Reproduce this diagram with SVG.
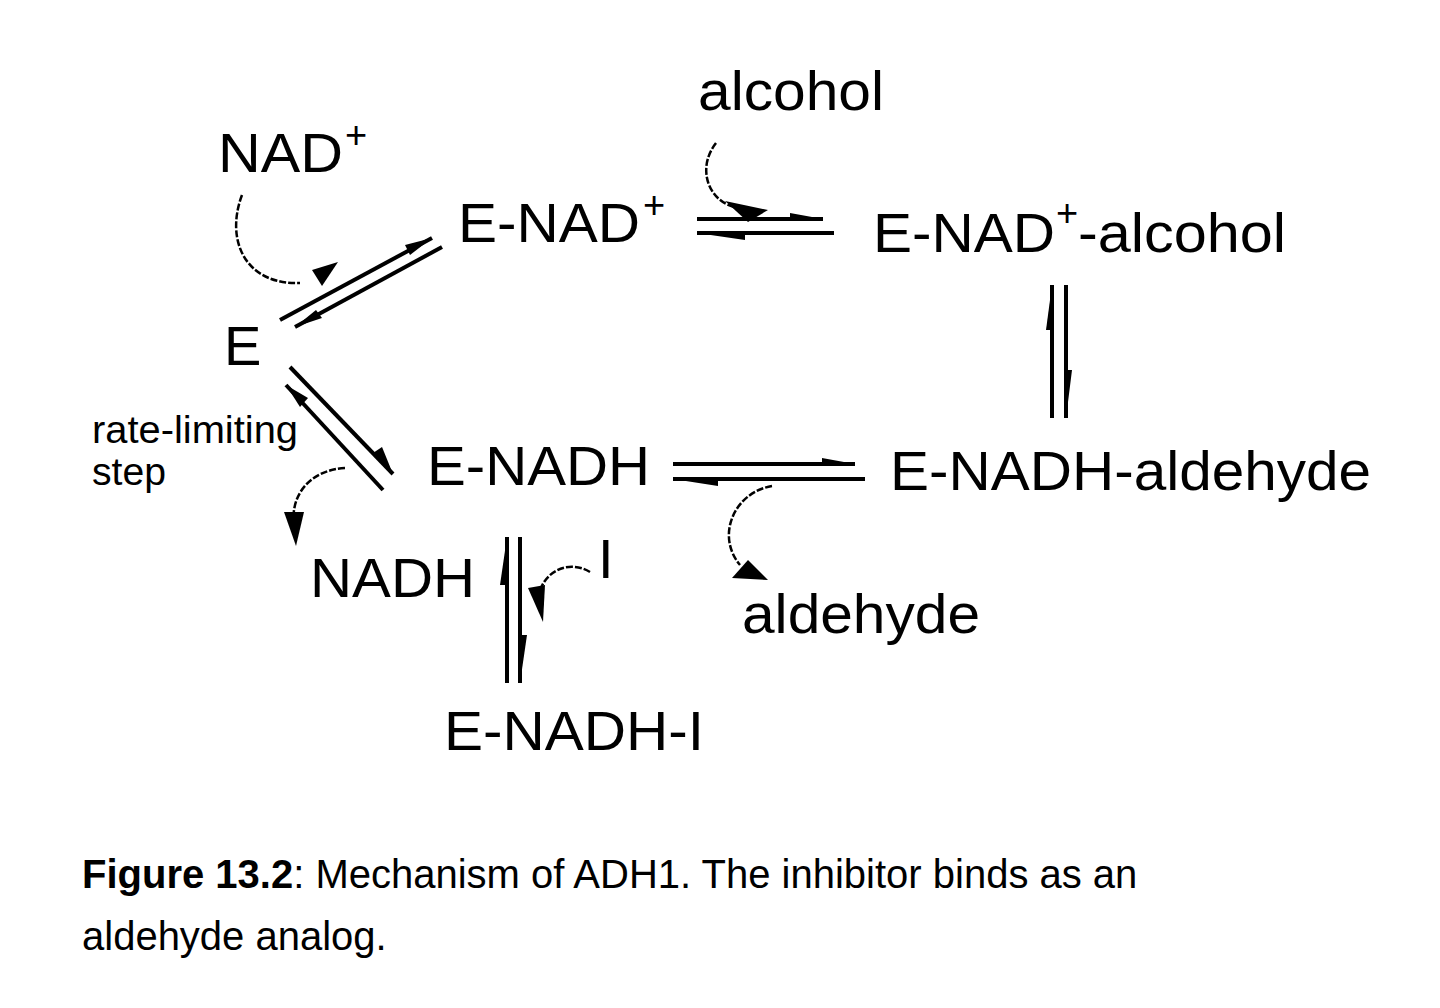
<svg xmlns="http://www.w3.org/2000/svg" width="1440" height="1008" viewBox="0 0 1440 1008">
<style>
.l{font-family:"Liberation Sans",Arial,sans-serif;font-size:56px;fill:#000}
.s{font-family:"Liberation Sans",Arial,sans-serif;font-size:38px;fill:#000}
.c{font-family:"Liberation Sans",Arial,sans-serif;font-size:40px;fill:#000}
.ln{stroke:#000;stroke-width:4;fill:none}
.cv{stroke:#000;stroke-width:2.5;fill:none;stroke-dasharray:7 2}
.h{fill:#000}
</style>
<rect width="1440" height="1008" fill="#fff"/>
<g id="n-nad"><text class="l" x="218" y="172" textLength="125" lengthAdjust="spacingAndGlyphs">NAD</text><text class="s" x="345" y="148">+</text></g>
<g id="n-alcohol"><text class="l" x="698" y="110" textLength="186" lengthAdjust="spacingAndGlyphs">alcohol</text></g>
<g id="n-enad"><text class="l" x="458" y="242" textLength="182" lengthAdjust="spacingAndGlyphs">E-NAD</text><text class="s" x="643" y="218">+</text></g>
<g id="n-enadalc"><text class="l" x="873" y="252" textLength="182" lengthAdjust="spacingAndGlyphs">E-NAD</text><text class="s" x="1056" y="226">+</text><text class="l" x="1078" y="252" textLength="208" lengthAdjust="spacingAndGlyphs">-alcohol</text></g>
<g id="n-e"><text class="l" x="224" y="365">E</text></g>
<g id="n-rate"><text class="s" x="92" y="443" textLength="206" lengthAdjust="spacingAndGlyphs">rate-limiting</text><text class="s" x="92" y="485" textLength="74" lengthAdjust="spacingAndGlyphs">step</text></g>
<g id="n-enadh"><text class="l" x="427" y="485" textLength="223" lengthAdjust="spacingAndGlyphs">E-NADH</text></g>
<g id="n-enadhald"><text class="l" x="890" y="490" textLength="481" lengthAdjust="spacingAndGlyphs">E-NADH-aldehyde</text></g>
<g id="n-nadh"><text class="l" x="310" y="597" textLength="165" lengthAdjust="spacingAndGlyphs">NADH</text></g>
<g id="n-i"><text class="l" x="598" y="578">I</text></g>
<g id="n-aldehyde"><text class="l" x="742" y="633" textLength="238" lengthAdjust="spacingAndGlyphs">aldehyde</text></g>
<g id="n-enadhi"><text class="l" x="444" y="750" textLength="260" lengthAdjust="spacingAndGlyphs">E-NADH-I</text></g>
<g id="caption"><text class="c" x="82" y="888"><tspan font-weight="bold">Figure 13.2</tspan>: Mechanism of ADH1.  The inhibitor binds as an</text><text class="c" x="82" y="950">aldehyde analog.</text></g>
<g id="connectors">
<!-- E <-> E-NAD+ -->
<line class="ln" x1="280" y1="320" x2="432" y2="238"/><polygon class="h" points="432,238 405,245 410,255"/>
<line class="ln" x1="295" y1="327" x2="442" y2="247"/><polygon class="h" points="295,327 322,318 316,310"/>
<path class="cv" d="M242,195 C225,240 245,285 300,283"/><polygon class="h" points="338,262 312,270 322,286"/>
<!-- E <-> E-NADH -->
<line class="ln" x1="290" y1="367" x2="393" y2="474"/><polygon class="h" points="393,474 373,453 382,447"/>
<line class="ln" x1="286" y1="385" x2="383" y2="490"/><polygon class="h" points="286,385 300,407 308,398"/>
<path class="cv" d="M345,468 C310,470 290,495 294,525"/><polygon class="h" points="296,546 284,512 304,512"/>
<!-- E-NAD+ <-> E-NAD+-alcohol -->
<line class="ln" x1="697" y1="219" x2="823" y2="219"/><polygon class="h" points="823,219 790,213 790,219"/>
<line class="ln" x1="697" y1="233" x2="834" y2="233"/><polygon class="h" points="697,233 745,233 745,240"/>
<path class="cv" d="M716,143 C695,170 710,205 740,208"/><polygon class="h" points="768,210 725,201 748,222"/>
<!-- right vertical -->
<line class="ln" x1="1052" y1="285" x2="1052" y2="418"/><polygon class="h" points="1052,285 1046,330 1052,330"/>
<line class="ln" x1="1066" y1="285" x2="1066" y2="418"/><polygon class="h" points="1066,418 1072,370 1066,370"/>
<!-- E-NADH <-> E-NADH-aldehyde -->
<line class="ln" x1="673" y1="464" x2="855" y2="464"/><polygon class="h" points="855,464 822,458 822,464"/>
<line class="ln" x1="673" y1="479" x2="865" y2="479"/><polygon class="h" points="673,479 718,479 718,486"/>
<path class="cv" d="M772,486 C735,492 715,535 740,565"/><polygon class="h" points="768,580 732,578 748,560"/>
<!-- NADH/E-NADH-I vertical -->
<line class="ln" x1="507" y1="537" x2="507" y2="683"/><polygon class="h" points="507,537 500,585 507,585"/>
<line class="ln" x1="520" y1="537" x2="520" y2="683"/><polygon class="h" points="520,683 527,635 520,635"/>
<path class="cv" d="M590,572 C570,560 548,570 541,588"/><polygon class="h" points="543,622 528,588 545,585"/>
</g>
</svg>
